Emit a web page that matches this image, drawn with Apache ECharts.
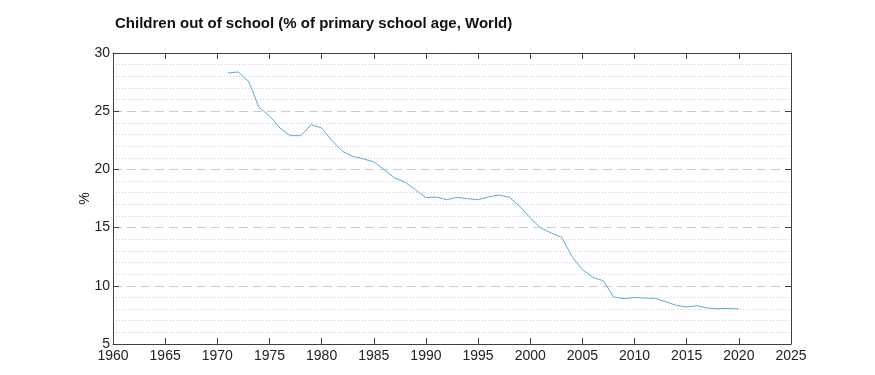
<!DOCTYPE html>
<html><head><meta charset="utf-8">
<script src="https://cdn.jsdelivr.net/npm/echarts@6/dist/echarts.min.js"></script>
<style>html,body{margin:0;padding:0;background:#fff}#c{width:875px;height:375px}</style>
</head><body><div id="c"></div>
<script>
const years = [1971,1972,1973,1974,1975,1976,1977,1978,1979,1980,1981,1982,1983,1984,1985,1986,1987,1988,1989,1990,1991,1992,1993,1994,1995,1996,1997,1998,1999,2000,2001,2002,2003,2004,2005,2006,2007,2008,2009,2010,2011,2012,2013,2014,2015,2016,2017,2018,2019,2020];
const values = [28.28,28.37,27.56,25.33,24.6,23.56,22.9,22.9,23.84,23.56,22.47,21.55,21.12,20.9,20.65,19.97,19.26,18.9,18.26,17.57,17.63,17.4,17.6,17.48,17.4,17.63,17.8,17.6,16.83,15.83,14.97,14.54,14.18,12.53,11.38,10.73,10.44,9.04,8.9,9.0,8.95,8.92,8.63,8.32,8.18,8.29,8.09,8.03,8.06,8.01];
const titleText = 'Children out of school (% of primary school age, World)';
const yName = '%';

const font = "'Liberation Sans', Arial, Helvetica, sans-serif";
const axisCol = '#404040';
const chart = echarts.init(document.getElementById('c'), null, {renderer:'canvas'});
const common = {
  axisLine:{show:true, lineStyle:{color:axisCol, width:1}},
  axisTick:{show:true, inside:true, length:6, lineStyle:{color:axisCol}},
};
chart.setOption({
  animation:false,
  backgroundColor:'#fff',
  title:{text:titleText, left:115, top:16, padding:0,
    textStyle:{fontFamily:font, fontSize:15, fontWeight:'bold', color:'#111'}},
  grid:{left:113, right:84, top:53, bottom:31, containLabel:false},
  xAxis:[
    Object.assign({type:'value', min:1960, max:2025, interval:5, position:'bottom',
      axisLabel:{formatter:v=>String(v), fontFamily:font, fontSize:14, color:'#222', margin:5},
      splitLine:{show:false}}, common),
    Object.assign({type:'value', min:1960, max:2025, interval:5, position:'top',
      axisLabel:{show:false}, splitLine:{show:false}}, common)
  ],
  yAxis:[
    Object.assign({type:'value', min:5, max:30, interval:5, position:'left',
      name:yName, nameLocation:'middle', nameGap:21, nameRotate:90, nameMoveOverlap:false,
      nameTextStyle:{fontFamily:font, fontSize:14, color:'#222'},
      axisLabel:{fontFamily:font, fontSize:14, color:'#222', margin:3},
      splitLine:{show:true, lineStyle:{color:'#cccccc', type:[9,5], width:1}},
      minorTick:{show:false, splitNumber:5},
      minorSplitLine:{show:true, lineStyle:{color:'#d0d0d0', type:[1,2], width:1}}}, common),
    Object.assign({type:'value', min:5, max:30, interval:5, position:'right',
      axisLabel:{show:false}, splitLine:{show:false}}, common)
  ],
  series:[{type:'line', xAxisIndex:0, yAxisIndex:0, showSymbol:false,
    data: years.map((y,i)=>[y, values[i]]),
    lineStyle:{color:'#5aaed0', width:1}, itemStyle:{color:'#5aaed0'}}]
});
</script></body></html>
